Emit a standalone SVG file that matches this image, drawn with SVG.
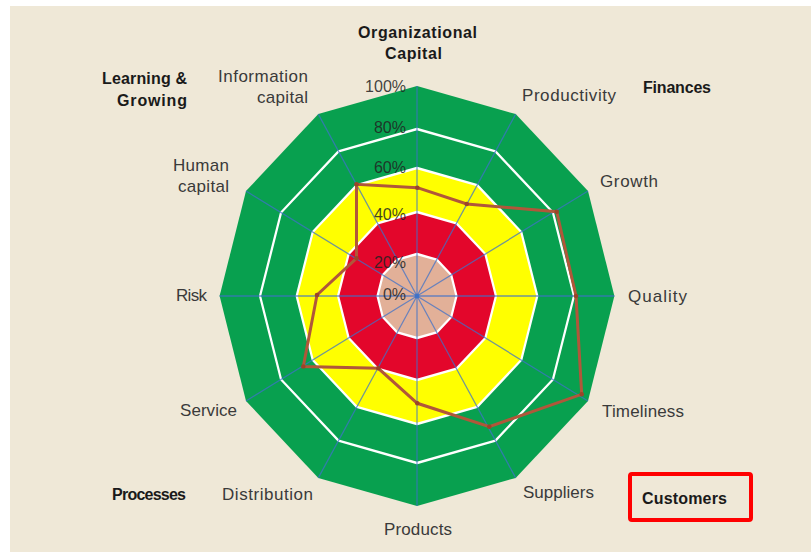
<svg xmlns="http://www.w3.org/2000/svg" width="811" height="552" viewBox="0 0 811 552">
<style>
.lbl{font-family:"Liberation Sans",Arial,sans-serif;font-size:17px;fill:#3a3a3a}
.cat{font-family:"Liberation Sans",Arial,sans-serif;font-size:16px;font-weight:bold;fill:#1a1a1a}
.pct{font-family:"Liberation Sans",Arial,sans-serif;font-size:16px;fill:#222;fill-opacity:0.85;text-anchor:end}
.ring{stroke:#ffffff;stroke-width:2.4;stroke-linejoin:round}
.spoke{stroke:#3f72c8;stroke-opacity:0.75;stroke-width:1.3}
</style>
<rect x="0" y="0" width="811" height="552" fill="#ffffff"/>
<rect x="10" y="6" width="801" height="546" fill="#efe8d7"/>
<g id="chart" transform="translate(417,296) scale(0.94,1)">
  <polygon id="ring100" fill="#08a04f" points="210,0 181.9,-105 105,-181.9 0,-210 -105,-181.9 -181.9,-105 -210,0 -181.9,105 -105,181.9 0,210 105,181.9 181.9,105"/>
  <polygon id="ring80" class="ring" fill="none" points="167,0 144.6,-83.5 83.5,-144.6 0,-167 -83.5,-144.6 -144.6,-83.5 -167,0 -144.6,83.5 -83.5,144.6 0,167 83.5,144.6 144.6,83.5"/>
  <polygon id="ring60" class="ring" fill="#ffff00" points="128,0 110.9,-64 64,-110.9 0,-128 -64,-110.9 -110.9,-64 -128,0 -110.9,64 -64,110.9 0,128 64,110.9 110.9,64"/>
  <polygon id="ring40" class="ring" fill="#e3062b" points="84,0 72.7,-42 42,-72.7 0,-84 -42,-72.7 -72.7,-42 -84,0 -72.7,42 -42,72.7 0,84 42,72.7 72.7,42"/>
  <polygon id="ring20" class="ring" fill="#e2b098" points="42,0 36.4,-21 21,-36.4 0,-42 -21,-36.4 -36.4,-21 -42,0 -36.4,21 -21,36.4 0,42 21,36.4 36.4,21"/>
  <g id="spokes" class="spoke">
    <line x1="0" y1="0" x2="210" y2="0"/>
    <line x1="0" y1="0" x2="181.9" y2="-105"/>
    <line x1="0" y1="0" x2="105" y2="-181.9"/>
    <line x1="0" y1="0" x2="0" y2="-210"/>
    <line x1="0" y1="0" x2="-105" y2="-181.9"/>
    <line x1="0" y1="0" x2="-181.9" y2="-105"/>
    <line x1="0" y1="0" x2="-210" y2="0"/>
    <line x1="0" y1="0" x2="-181.9" y2="105"/>
    <line x1="0" y1="0" x2="-105" y2="181.9"/>
    <line x1="0" y1="0" x2="0" y2="210"/>
    <line x1="0" y1="0" x2="105" y2="181.9"/>
    <line x1="0" y1="0" x2="181.9" y2="105"/>
  </g>
  <circle cx="0" cy="0" r="2.5" fill="#3f72c8"/>
</g>
<g id="pct-labels">
  <text class="pct" x="406" y="92">100%</text>
  <text class="pct" x="406" y="133">80%</text>
  <text class="pct" x="406" y="173">60%</text>
  <text class="pct" x="406" y="220">40%</text>
  <text class="pct" x="406" y="268">20%</text>
  <text class="pct" x="406" y="300">0%</text>
</g>
<g id="data">
  <polygon fill="none" stroke="#b0573a" stroke-width="3" stroke-linejoin="miter" points="417.3,187.7 466.7,204 556.7,211.7 576,296 581.7,394.3 489.3,426.7 417.3,403.3 378.3,368.3 303.3,366.5 317,295 356.5,258.3 356.5,184.3"/>
  <g fill="#9a4529">
    <circle cx="417.3" cy="187.7" r="2.3"/>
    <circle cx="466.7" cy="204" r="2.3"/>
    <circle cx="556.7" cy="211.7" r="2.3"/>
    <circle cx="576" cy="296" r="2.3"/>
    <circle cx="581.7" cy="394.3" r="2.3"/>
    <circle cx="489.3" cy="426.7" r="2.3"/>
    <circle cx="417.3" cy="403.3" r="2.3"/>
    <circle cx="378.3" cy="368.3" r="2.3"/>
    <circle cx="303.3" cy="366.5" r="2.3"/>
    <circle cx="317" cy="295" r="2.3"/>
    <circle cx="356.5" cy="258.3" r="2.3"/>
    <circle cx="356.5" cy="184.3" r="2.3"/>
  </g>
</g>
<g id="axis-labels">
  <text class="cat" x="417.5" y="38" text-anchor="middle" font-size="17" textLength="119">Organizational</text>
  <text class="cat" x="413.5" y="59" text-anchor="middle" font-size="17" textLength="57">Capital</text>
  <text class="lbl" x="218" y="82" textLength="90">Information</text>
  <text class="lbl" x="257" y="103" textLength="51">capital</text>
  <text class="lbl" x="173" y="171" textLength="56">Human</text>
  <text class="lbl" x="178" y="192" textLength="51">capital</text>
  <text class="lbl" x="176" y="301" textLength="31">Risk</text>
  <text class="lbl" x="180" y="416" textLength="57">Service</text>
  <text class="lbl" x="222" y="500" textLength="91">Distribution</text>
  <text class="lbl" x="384" y="535" textLength="68">Products</text>
  <text class="lbl" x="523" y="498" textLength="71">Suppliers</text>
  <text class="lbl" x="602" y="417" textLength="82">Timeliness</text>
  <text class="lbl" x="628" y="302" textLength="59">Quality</text>
  <text class="lbl" x="600" y="187" textLength="58">Growth</text>
  <text class="lbl" x="522" y="101" textLength="94">Productivity</text>
</g>
<g id="categories">
  <text class="cat" x="102" y="84" textLength="85">Learning &amp;</text>
  <text class="cat" x="117" y="106" textLength="70">Growing</text>
  <text class="cat" x="643" y="93" textLength="68">Finances</text>
  <text class="cat" x="112" y="500" textLength="74">Processes</text>
  <text class="cat" x="642" y="504" textLength="85">Customers</text>
</g>
<rect id="highlight" x="630" y="474" width="121" height="46" rx="2" fill="none" stroke="#ff0000" stroke-width="4"/>
</svg>
